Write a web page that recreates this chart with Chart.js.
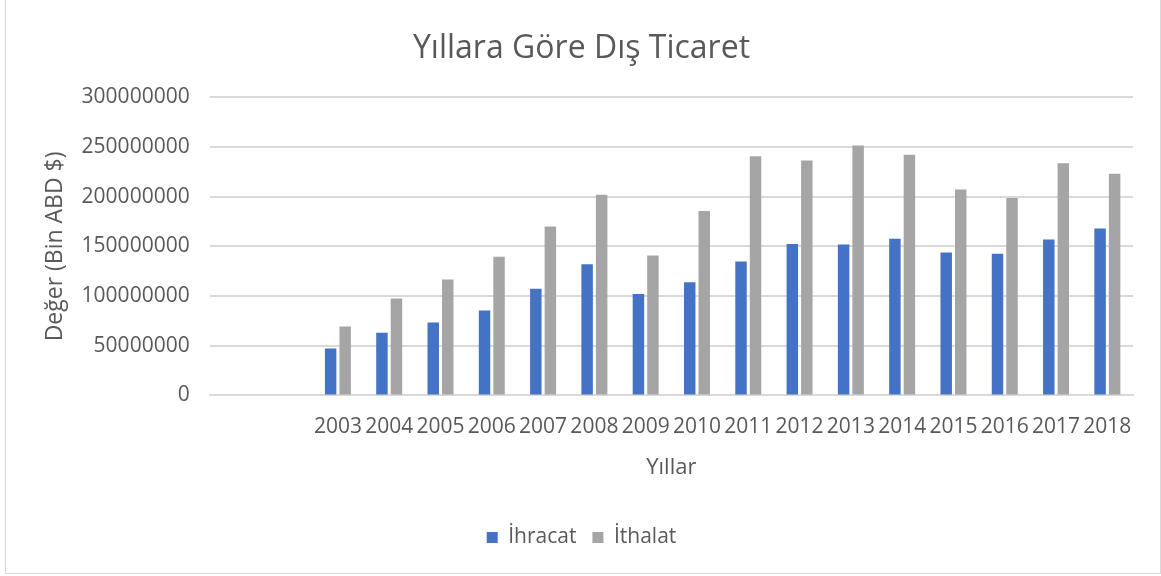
<!DOCTYPE html>
<html>
<head>
<meta charset="utf-8">
<script src="https://cdn.jsdelivr.net/npm/chart.js@4/dist/chart.umd.min.js"></script>
<style>
  html, body { margin: 0; padding: 0; background: #fff; overflow: hidden; }
  #wrap { position: relative; width: 1161px; height: 576px; }
  #frame { position: absolute; left: 5px; top: -5px; width: 1154px; height: 577px; border: 1px solid #d9d9d9; pointer-events: none; }
</style>
</head>
<body>
<div id="wrap">
  <canvas id="tradeChart" width="1161" height="576"></canvas>
  <div id="frame"></div>
</div>
<script>
// two empty slots before 2003, as in the original sheet
const years = ["", "", "2003", "2004", "2005", "2006", "2007", "2008", "2009", "2010",
  "2011", "2012", "2013", "2014", "2015", "2016", "2017", "2018"];

// Bin ABD $
const ihracat = [null, null, 47250000, 63170000, 73480000, 85540000, 107270000, 132030000,
  102140000, 113880000, 134910000, 152460000, 151800000, 157610000, 143840000, 142530000,
  156990000, 167920000];
const ithalat = [null, null, 69340000, 97540000, 116770000, 139580000, 170060000, 201960000,
  140930000, 185540000, 240840000, 236550000, 251660000, 242180000, 207230000, 198620000,
  233800000, 223050000];

const yTicks = [0, 50000000, 100000000, 150000000, 200000000, 250000000, 300000000];

const textColor = "#595959";
const gridColor = "#d9d9d9";
const fontFamily = "'Open Sans', sans-serif";

const ctx = document.getElementById("tradeChart").getContext("2d");
const tradeChart = new Chart(ctx, {
  type: "bar",
  data: {
    labels: years,
    datasets: [
      {
        label: "İhracat",
        data: ihracat,
        backgroundColor: "#4472C4",
        categoryPercentage: 0.566,
        barPercentage: 0.79,
      },
      {
        label: "İthalat",
        data: ithalat,
        backgroundColor: "#A5A5A5",
        categoryPercentage: 0.566,
        barPercentage: 0.79,
      },
    ],
  },
  options: {
    responsive: false,
    animation: false,
    layout: {
      padding: { left: 30, right: 28, top: 0, bottom: 18 },
    },
    plugins: {
      title: {
        display: true,
        text: "Yıllara Göre Dış Ticaret",
        color: textColor,
        font: { family: fontFamily, size: 32, weight: "normal" },
        padding: { top: 30, bottom: 29 },
      },
      legend: {
        position: "bottom",
        labels: {
          color: textColor,
          font: { family: fontFamily, size: 21 },
          boxWidth: 11,
          boxHeight: 11,
          padding: 16,
        },
      },
      tooltip: { enabled: false },
    },
    scales: {
      x: {
        grid: { display: false },
        border: { color: gridColor, width: 2 },
        ticks: {
          color: textColor,
          font: { family: fontFamily, size: 21 },
          maxRotation: 0,
          autoSkip: false,
          padding: 11,
        },
        title: {
          display: true,
          text: "Yıllar",
          color: textColor,
          font: { family: fontFamily, size: 22 },
          padding: { top: 4, bottom: 30 },
        },
      },
      y: {
        min: 0,
        max: 300000000,
        afterBuildTicks: (axis) => {
          axis.ticks = yTicks.map((v) => ({ value: v }));
        },
        grid: { color: gridColor, lineWidth: 2, drawTicks: false },
        border: { display: false },
        ticks: {
          color: textColor,
          font: { family: fontFamily, size: 21 },
          padding: 20,
          callback: (v) => String(v),
        },
        title: {
          display: true,
          text: "Değer (Bin ABD $)",
          color: textColor,
          font: { family: fontFamily, size: 23 },
          padding: { top: 12, bottom: -8 },
        },
      },
    },
  },
});
</script>
</body>
</html>
